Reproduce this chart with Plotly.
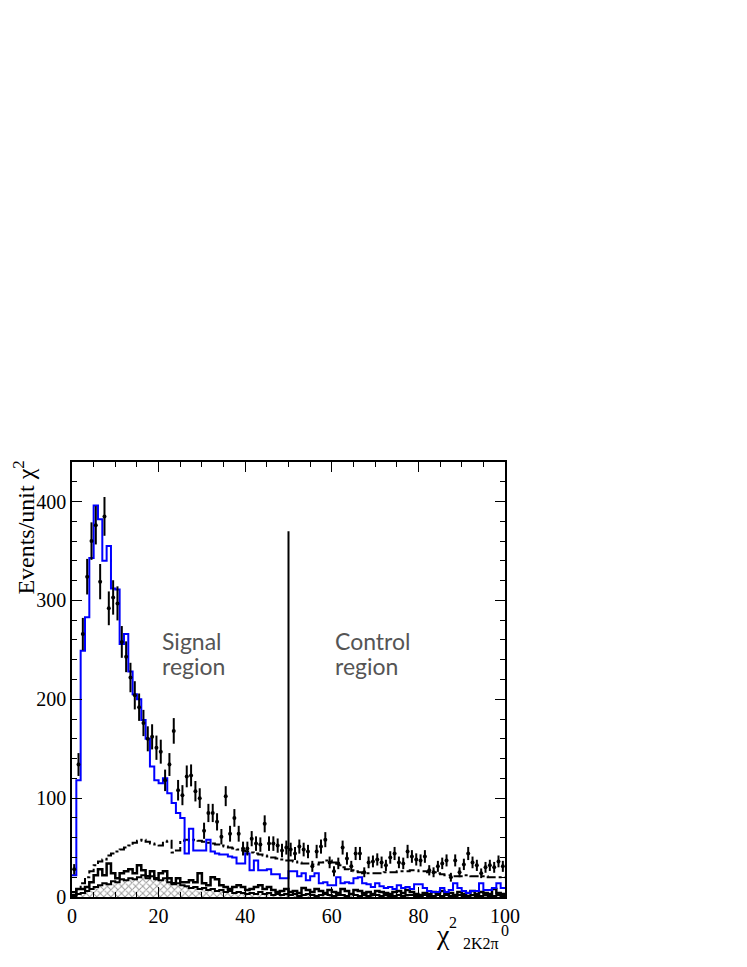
import numpy as np
import plotly.graph_objects as go

# chi2 bins, width 1, from 0 to 100
bin_edges = np.arange(0, 101)
bin_centers = bin_edges[:-1] + 0.5

data_counts = [28, 134, 266, 324, 360, 376, 319, 385, 292, 303,
               297, 258, 243, 222, 204, 192, 176, 160, 162, 151,
               147, 118, 134, 168, 108, 103, 122, 123, 107, 100,
               67, 85, 85, 76, 61, 102, 64, 80, 64, 49,
               49, 59, 54, 53, 74, 54, 54, 52, 47, 50,
               48, 44, 51, 48, 46, 31, 46, 51, 58, 35,
               26, 34, 50, 39, 31, 44, 44, 25, 35, 36,
               38, 35, 32, 40, 44, 35, 34, 46, 41, 38,
               37, 41, 27, 25, 31, 34, 37, 20, 37, 25,
               33, 44, 35, 32, 24, 30, 32, 30, 36, 31]

signal_mc = [22, 118, 249, 283, 343, 396, 382, 340, 355, 312,
             311, 256, 266, 228, 205, 200, 179, 160, 132, 118,
             115, 120, 105, 95, 85, 80, 44, 69, 47, 47,
             47, 58, 46, 44, 43, 43, 41, 40, 34, 34,
             44, 27, 37, 27, 27, 28, 23, 23, 19, 19,
             26, 26, 21, 24, 17, 21, 24, 14, 15, 12,
             12, 20, 14, 15, 14, 19, 20, 14, 13, 10,
             14, 11, 9, 10, 8, 12, 9, 10, 8, 13,
             13, 9, 6, 5, 5, 9, 5, 7, 14, 9,
             6, 4, 6, 6, 14, 7, 7, 9, 14, 9]

total_bkg = [5, 8, 14, 20, 26, 32, 36, 38, 42, 44,
             46, 48, 50, 52, 55, 57, 58, 56, 54, 53,
             52, 56, 57, 45, 47, 57, 58, 57, 58, 57,
             56, 55, 54, 53, 52, 51, 50, 49, 48, 47,
             46, 45, 44, 43, 42, 41, 40, 39, 38, 37,
             37, 36, 35, 34, 34, 33, 33, 35, 37, 37,
             35, 32, 30, 28, 27, 26, 25, 24, 24, 24,
             24, 24, 25, 25, 25, 26, 26, 26, 27, 27,
             26, 26, 25, 25, 24, 23, 22, 22, 21, 21,
             22, 22, 21, 21, 21, 21, 20, 20, 20, 20]

bkg_a = [2, 8, 8, 10, 15, 22, 28, 22, 34, 24,
         19, 24, 26, 28, 24, 32, 27, 21, 26, 19,
         24, 26, 19, 14, 19, 15, 15, 17, 15, 24,
         14, 12, 20, 18, 12, 10, 8, 10, 12, 10,
         7, 8, 10, 12, 8, 10, 7, 5, 6, 8,
         5, 6, 4, 9, 7, 5, 8, 6, 4, 7,
         5, 4, 8, 6, 3, 7, 6, 4, 5, 3,
         6, 5, 4, 3, 5, 6, 4, 7, 5, 3,
         2, 4, 3, 5, 4, 6, 3, 4, 2, 5,
         3, 4, 6, 3, 5, 4, 3, 8, 4, 3]

bkg_b = [1, 3, 4, 6, 8, 10, 12, 14, 13, 16,
         15, 18, 17, 19, 18, 20, 22, 19, 21, 18,
         17, 19, 15, 13, 14, 12, 11, 9, 10, 8,
         9, 7, 8, 6, 7, 5, 6, 4, 5, 4,
         3, 4, 3, 5, 3, 4, 2, 3, 2, 3,
         2, 3, 1, 2, 3, 2, 1, 2, 3, 2,
         1, 2, 2, 1, 3, 2, 1, 2, 1, 2,
         2, 1, 2, 1, 1, 2, 1, 2, 2, 1,
         1, 2, 1, 1, 2, 1, 2, 1, 1, 2,
         1, 1, 2, 1, 1, 2, 1, 1, 2, 1]

x_ticks = [0, 20, 40, 60, 80, 100]
y_ticks = [0, 100, 200, 300, 400]
boundary = 50
boundary_top = 370

serif = "Liberation Serif, Times New Roman, serif"


def step(vals):
    # histogram outline, drawn with hv steps over the bin edges
    xs = list(bin_edges)
    ys = list(vals) + [vals[-1]]
    return xs, ys


fig = go.Figure()

fig.add_trace(go.Bar(
    x=bin_centers, y=bkg_b, width=1,
    marker=dict(color="white", line=dict(width=0),
                pattern=dict(shape="x", fgcolor="#333333", size=5, solidity=0.35)),
))

for vals, col, w, dash in [(bkg_b, "black", 2, "solid"),
                           (bkg_a, "black", 2.5, "solid"),
                           (total_bkg, "black", 2, "dashdot"),
                           (signal_mc, "#0000ff", 2, "solid")]:
    xs, ys = step(vals)
    fig.add_trace(go.Scatter(x=xs, y=ys, mode="lines",
                             line=dict(shape="hv", color=col, width=w, dash=dash)))

fig.add_trace(go.Scatter(
    x=bin_centers, y=data_counts, mode="markers",
    marker=dict(color="black", size=4),
    error_y=dict(type="data", array=np.sqrt(data_counts), color="black",
                 thickness=2, width=0),
))

fig.add_shape(type="line", x0=boundary, x1=boundary, y0=0, y1=boundary_top,
              line=dict(color="black", width=2))

region_font = dict(family="Lato, Open Sans, sans-serif", size=23, color="#555555")
for xpos, words in [(20.3, ["Signal", "region"]), (60.3, ["Control", "region"])]:
    fig.add_annotation(x=xpos, y=259, text=words[0], showarrow=False,
                       xanchor="left", yanchor="middle", font=region_font)
    fig.add_annotation(x=xpos, y=234, text=words[1], showarrow=False,
                       xanchor="left", yanchor="middle", font=region_font)

# axis titles, placed by hand like the original
fig.add_annotation(xref="paper", yref="paper", x=-0.11, y=0.85,
                   xanchor="center", yanchor="middle",
                   text="Events/unit χ<sup>2</sup>", textangle=-90, showarrow=False,
                   font=dict(family=serif, size=24, color="black"))
fig.add_annotation(xref="paper", yref="paper", x=0.857, y=-0.087,
                   xanchor="center", yanchor="middle",
                   text="χ", showarrow=False, font=dict(family=serif, size=28, color="black"))
fig.add_annotation(xref="paper", yref="paper", x=0.881, y=-0.058,
                   xanchor="center", yanchor="middle",
                   text="2", showarrow=False, font=dict(family=serif, size=16, color="black"))
fig.add_annotation(xref="paper", yref="paper", x=0.944, y=-0.106,
                   xanchor="center", yanchor="middle",
                   text="2K2π", showarrow=False, font=dict(family=serif, size=16, color="black"))
fig.add_annotation(xref="paper", yref="paper", x=1.0, y=-0.078,
                   xanchor="center", yanchor="middle",
                   text="0", showarrow=False, font=dict(family=serif, size=16, color="black"))

axis_common = dict(showline=True, mirror="allticks", linecolor="black", linewidth=1.5,
                   ticks="inside", ticklen=10, tickwidth=1, tickcolor="black",
                   showgrid=False, zeroline=False,
                   tickfont=dict(family=serif, size=20, color="black"))

fig.update_xaxes(range=[0, 100], tickvals=x_ticks,
                 minor=dict(dtick=5, ticks="inside", ticklen=5, tickcolor="black"),
                 **axis_common)
fig.update_yaxes(range=[0, 440], tickvals=y_ticks,
                 minor=dict(dtick=20, ticks="inside", ticklen=5, tickcolor="black"),
                 **axis_common)

fig.update_layout(width=747, height=967, showlegend=False, barmode="overlay",
                  plot_bgcolor="white", paper_bgcolor="white",
                  margin=dict(l=64, r=250, t=454, b=78))

fig.write_html("out.html")
